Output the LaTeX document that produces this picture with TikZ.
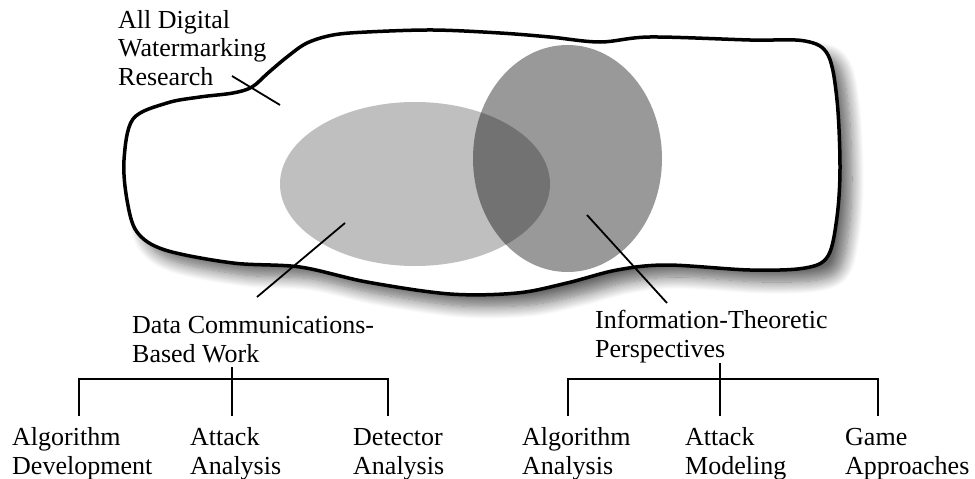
\documentclass[tikz,border=0pt]{standalone}
\usepackage{fontspec}
\setmainfont{Liberation Serif}
\usetikzlibrary{shadows.blur}
\tikzset{
    research-blob/.style = {draw=black, fill=white, line width=3.5pt, line join=round,
        blur shadow={shadow xshift=12pt, shadow yshift=-12pt, shadow blur radius=12pt, shadow blur steps=14, shadow opacity=60}},
    light-area/.style = {fill=black, fill opacity=0.25},
    dark-area/.style = {fill=black, fill opacity=0.4},
    leader-line/.style = {draw=black, line width=1.8pt},
    tree-line/.style = {draw=black, line width=1.8pt},
    label-text/.style = {anchor=base west, inner sep=0pt, align=left, font=\fontsize{26}{28.5}\selectfont},
}

\begin{document}
\begin{tikzpicture}[x=1pt, y=-1pt]
\useasboundingbox (0,0) rectangle (975,479);
\path[research-blob] plot[smooth cycle, tension=0.55] coordinates {
    (133,119) (167,103) (200,97) (233,93) (252,87) (268,73) (287,57) (307,43) (333,35)
    (367,32) (433,30) (500,33) (550,37) (600,42) (650,37) (750,40) (805,41) (828,55)
    (837,100) (840,167) (837,217) (828,256) (805,268) (750,270) (667,265) (617,270)
    (567,283) (517,293) (450,294) (367,282) (300,267) (233,263) (165,250) (137,232)
    (127,200) (124,160)};
\fill[light-area] (415,184) ellipse [x radius=135, y radius=82];
\fill[dark-area] (567.5,158.5) ellipse [x radius=94.5, y radius=113.5];

\node[label-text] (allwm) at (118,85) {All Digital\\Watermarking\\Research};
\node[label-text] (dcwork) at (132,362) {Data Communications-\\Based Work};
\node[label-text] (itpersp) at (595,357) {Information-Theoretic\\Perspectives};

\coordinate (allwm-end) at (232,76);
\coordinate (allwm-tip) at (280,105);
\coordinate (dcwork-end) at (257,297);
\coordinate (dcwork-tip) at (345,223);
\coordinate (itpersp-end) at (667,303);
\coordinate (itpersp-tip) at (587,215);
\draw[leader-line] (allwm-end) -- (allwm-tip);
\draw[leader-line] (dcwork-end) -- (dcwork-tip);
\draw[leader-line] (itpersp-end) -- (itpersp-tip);

\node[label-text] (algdev) at (12,474) {Algorithm\\Development};
\node[label-text] (attana) at (190,474) {Attack\\Analysis};
\node[label-text] (detana) at (353,474) {Detector\\Analysis};
\node[label-text] (algana) at (522,474) {Algorithm\\Analysis};
\node[label-text] (attmod) at (685,474) {Attack\\Modeling};
\node[label-text] (gameapp) at (845,474) {Game\\Approaches};

\coordinate (dc-stem) at (232,367);
\coordinate (dc-bar) at (232,379);
\coordinate (algdev-top) at (79,416);
\coordinate (attana-top) at (232,416);
\coordinate (detana-top) at (388,416);
\draw[tree-line] (algdev-top) |- (dc-bar) -| (detana-top);
\draw[tree-line] (dc-stem) -- (attana-top);

\coordinate (it-stem) at (720,363);
\coordinate (it-bar) at (720,379);
\coordinate (algana-top) at (568,416);
\coordinate (attmod-top) at (720,416);
\coordinate (gameapp-top) at (878,416);
\draw[tree-line] (algana-top) |- (it-bar) -| (gameapp-top);
\draw[tree-line] (it-stem) -- (attmod-top);
\end{tikzpicture}
\end{document}
